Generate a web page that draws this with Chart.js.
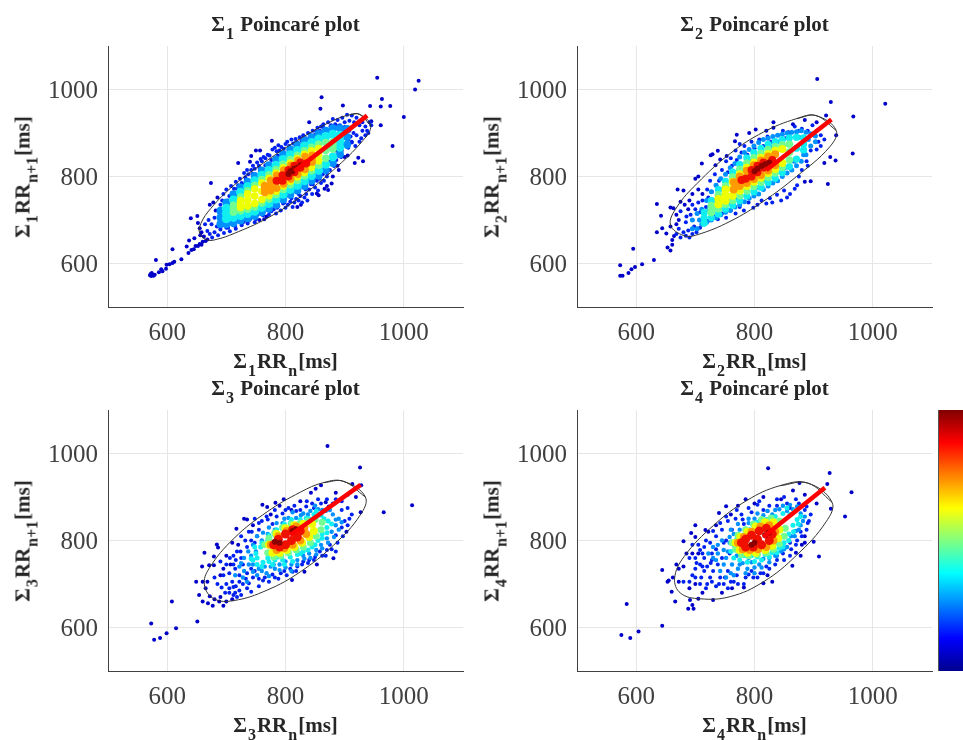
<!DOCTYPE html>
<html>
<head>
<meta charset="utf-8">
<title>Poincaré plots</title>
<script src="https://cdn.jsdelivr.net/npm/chart.js@4"></script>
<style>
  html, body { margin: 0; background: #fff; overflow: hidden; }
  #page { position: relative; width: 963px; height: 740px; overflow: hidden; }
  #page canvas { position: absolute; filter: blur(0.5px); }
  .lbl { position: absolute; font-family: "Liberation Serif", serif; font-weight: bold; color: #262626; white-space: nowrap; line-height: 1; }
  .lbl span { font-size: 16px; position: relative; top: 8px; margin: 0 1px; }
  .title { font-size: 21px; transform: translateX(-50%); }
  .xlab { font-size: 21px; transform: translateX(-50%); }
  .ylab { font-size: 21px; transform: translate(-50%, -50%) rotate(-90deg); }
  #colorbar { position: absolute; left: 938px; top: 410px; width: 25px; height: 261px; border-left: 1px solid #555; box-sizing: border-box; }
</style>
</head>
<body>
<div id="page"><div id="colorbar"></div></div>
<script>
// axis setup
const axisMin = 500
const axisMax = 1100
const tickValues = [600, 800, 1000]
const colorbarStops = ['#00008f', '#0000ff', '#0080ff', '#00ffff', '#80ff80', '#ffff00', '#ff8000', '#ff0000', '#800000']

// density bands, back to front
const bandColors = ['#0000c8', '#0020f0', '#0090ff', '#10eef0', '#70ff90', '#eeff00', '#ff9a00', '#f01000', '#8c0000']

// panel 1
const p1Navy = [[571,573],[573,571],[575,575],[577,572],[574,578],[579,574],[572,576],[581,608],[586,580],[590,587],[592,582],[598,588],[599,597],[604,598],[609,601],[609,633],[612,604],[624,610],[633,639],[636,624],[637,653],[640,704],[641,631],[645,633],[646,658],[648,640],[651,709],[652,640],[655,645],[656,665],[658,643],[660,650],[652,693],[655,681],[658,672],[662,662],[665,652],[668,655],[674,785],[672,735],[678,740],[682,722],[685,752],[720,831],[740,834],[742,847],[750,860],[757,860],[777,882],[840,925],[859,956],[861,982],[897,963],[943,962],[955,1027],[961,961],[963,978],[977,962],[1000,937],[961,918],[981,870],[945,927],[1019,1000],[1025,1020],[931,835],[917,831],[923,843],[900,845],[905,848],[878,784],[872,769],[853,761],[856,757],[870,778],[866,772],[752,712],[756,700],[768,708],[764,702],[820,730],[826,735],[880,800],[890,815],[888,825]]
const p1Blue = [[688,718],[690,735],[693,745],[695,760],[698,728],[700,770],[703,745],[705,755],[708,778],[710,762],[713,772],[716,788],[720,780],[723,795],[726,785],[730,808],[732,798],[735,815],[737,805],[742,815],[745,825],[748,818],[752,832],[755,825],[758,840],[760,835],[763,845],[766,842],[770,850],[773,848],[778,862],[782,866],[785,858],[788,872],[790,860],[793,868],[797,864],[800,875],[803,880],[806,870],[810,885],[813,876],[817,886],[820,878],[824,890],[827,882],[830,895],[834,888],[838,900],[842,892],[846,905],[850,896],[854,912],[858,905],[860,915],[864,920],[868,908],[872,925],[876,915],[880,932],[884,920],[888,930],[892,918],[896,935],[900,925],[904,942],[908,928],[912,940],[916,925],[920,935],[925,918],[930,925],[935,915],[938,905],[942,925],[945,918],[940,900],[935,895],[930,905],[928,888],[925,880],[920,895],[918,870],[915,900],[912,880],[910,892],[906,885],[905,868],[902,895],[900,905],[898,875],[895,860],[892,885],[890,850],[888,870],[886,838],[884,860],[880,828],[878,845],[875,815],[873,835],[870,800],[868,822],[865,790],[863,805],[860,785],[858,810],[855,768],[853,790],[850,775],[848,795],[845,760],[843,782],[840,770],[837,745],[835,760],[832,752],[828,740],[825,755],[822,745],[818,748],[815,740],[812,730],[808,742],[804,735],[800,728],[796,738],[792,722],[788,732],[784,715],[780,725],[776,720],[772,712],[760,715],[748,695],[744,708],[740,702],[736,692],[732,698],[726,688],[722,695],[716,680],[712,688],[706,674],[700,682],[696,670],[690,678],[686,665],[680,672],[676,660],[672,668],[668,675],[664,690],[670,700],[675,690],[680,705],[684,685],[692,700],[698,715],[694,712],[703,735],[710,752],[718,772],[727,782],[733,792],[744,806],[756,820],[766,826],[776,838],[787,848],[797,856],[807,868],[818,878],[829,888],[841,897],[852,904],[864,912],[877,918],[889,916],[900,914],[908,905],[690,682],[703,682],[715,686],[728,694],[738,698],[750,702],[762,711],[774,720],[786,728],[798,740],[810,750],[822,760],[834,770],[846,782],[858,795],[870,808],[882,824],[894,845],[906,866],[912,878]]
const p1Azure = [[690,721],[690,691],[700,740],[700,690],[712,759],[712,693],[724,775],[724,699],[736,788],[736,704],[748,801],[748,709],[760,814],[760,718],[772,826],[772,726],[784,839],[784,735],[796,851],[796,747],[808,862],[808,758],[820,872],[820,768],[832,882],[832,778],[844,890],[844,790],[856,898],[856,802],[868,905],[868,815],[880,911],[880,831],[892,911],[892,851],[904,909],[904,873],[690,706],[700,715],[892,881],[904,891]]
const p1Cyan = [[700,727],[700,703],[712,746],[712,706],[724,764],[724,710],[736,777],[736,715],[748,790],[748,720],[760,803],[760,729],[772,814],[772,738],[784,826],[784,748],[796,839],[796,759],[808,850],[808,770],[820,860],[820,780],[832,870],[832,790],[844,878],[844,802],[856,886],[856,814],[868,892],[868,828],[880,897],[880,845],[892,895],[892,867],[700,715],[712,726],[892,881],[880,871]]
const p1Green = [[712,734],[712,718],[724,753],[724,721],[736,767],[736,725],[748,780],[748,730],[760,793],[760,739],[772,804],[772,748],[784,816],[784,758],[796,828],[796,770],[808,839],[808,781],[820,849],[820,791],[832,859],[832,801],[844,867],[844,813],[856,874],[856,826],[868,878],[868,842],[880,879],[880,863],[712,726],[724,737],[868,860],[880,871]]
const p1Yellow = [[724,745],[724,729],[736,760],[736,732],[748,772],[748,738],[760,785],[760,747],[772,796],[772,756],[784,808],[784,766],[796,820],[796,778],[808,831],[808,789],[820,841],[820,799],[832,851],[832,809],[844,859],[844,821],[856,864],[856,836],[724,737],[736,746],[748,755],[760,766],[856,850]]
const p1Orange = [[765,779],[765,763],[775,791],[775,767],[785,803],[785,773],[797,815],[797,783],[809,826],[809,794],[821,837],[821,805],[833,846],[833,816],[845,849],[845,833],[765,771],[775,779],[785,788],[845,841]]
const p1Red = [[785,790],[795,790],[795,803],[805,800],[805,815],[815,810],[815,825],[825,820],[825,832],[835,830]]
const p1Dark = [[805,806],[808,812],[812,812],[815,818],[820,820],[826,826]]
const p1Ellipse = [[925,943],[944,917],[931,883],[881,815],[825,753],[769,704],[713,669],[685,656],[668,654],[655,669],[657,692],[674,727],[713,780],[769,837],[825,887],[881,929],[909,942],[925,943]]
const p1Axis = [[815,812],[938,940]]

// panel 2
const p2Navy = [[573,596],[573,572],[577,572],[587,578],[592,587],[598,592],[595,634],[610,598],[630,608],[635,737],[642,710],[635,672],[644,681],[651,669],[658,685],[653,637],[658,630],[661,643],[661,654],[664,663],[658,729],[663,727],[906,1024],[929,971],[1021,967],[967,938],[966,853],[937,837],[938,895],[924,783],[928,845],[918,831],[895,789],[885,788],[921,940],[885,930],[905,925],[770,896],[767,881],[802,908],[791,900],[820,905],[832,925],[832,912],[865,920],[857,902],[711,830],[729,851],[738,859],[726,849],[734,826],[753,847],[742,839],[670,770],[680,768],[675,742],[668,712],[672,700],[668,690],[682,735],[688,725],[695,760],[700,795],[705,800],[712,760],[705,770],[690,745]]
const p2Blue = [[668,668],[672,680],[675,660],[680,672],[684,664],[688,676],[690,660],[695,668],[698,685],[684,695],[675,720],[685,708],[692,712],[695,735],[700,725],[705,740],[708,718],[712,745],[718,730],[720,770],[722,752],[725,790],[728,765],[730,745],[733,805],[735,780],[740,790],[745,815],[748,775],[752,835],[755,810],[760,842],[762,825],[768,860],[770,838],[775,875],[778,855],[783,870],[788,850],[795,880],[800,865],[808,885],[815,870],[822,892],[828,880],[840,895],[848,905],[852,888],[860,900],[868,915],[875,905],[880,910],[890,905],[898,918],[905,905],[912,895],[918,885],[908,880],[900,895],[895,860],[905,862],[912,870],[888,835],[880,815],[890,825],[875,800],[872,780],[868,772],[860,760],[855,752],[850,768],[845,745],[838,758],[830,740],[826,750],[820,738],[812,745],[805,735],[798,728],[790,740],[782,722],[775,730],[768,715],[760,722],[752,705],[745,715],[738,702],[730,710],[722,698],[715,690],[708,682],[702,672]]
const p2Azure = [[695,700],[695,680],[703,715],[703,680],[711,725],[711,690],[719,745],[719,695],[727,765],[727,700],[735,780],[735,705],[743,795],[743,712],[751,805],[751,718],[759,820],[759,722],[767,830],[767,730],[775,845],[775,735],[783,855],[783,742],[791,862],[791,750],[799,870],[799,755],[807,878],[807,760],[815,885],[815,770],[823,888],[823,778],[831,892],[831,785],[839,895],[839,790],[847,897],[847,800],[855,900],[855,808],[863,902],[863,815],[871,903],[871,825],[879,905],[879,835],[887,902],[887,850],[895,898],[895,870],[903,893],[903,880],[707,700],[715,712],[723,725],[731,745],[739,730],[747,770],[755,740],[763,790],[771,750],[779,815],[787,770],[795,835],[803,775],[811,855],[819,790],[827,868],[835,805],[843,880],[851,820],[859,885],[867,835],[875,890],[883,850],[891,885]]
const p2Cyan = [[715,717],[715,693],[727,745],[727,705],[739,770],[739,714],[751,789],[751,725],[763,810],[763,734],[775,828],[775,744],[787,843],[787,755],[799,855],[799,765],[811,865],[811,775],[823,874],[823,786],[835,880],[835,796],[847,885],[847,809],[859,889],[859,823],[871,890],[871,840],[883,889],[883,861],[715,705],[727,725],[883,875],[871,865]]
const p2Green = [[727,733],[727,717],[739,758],[739,726],[751,778],[751,736],[763,799],[763,745],[775,816],[775,756],[787,831],[787,767],[799,843],[799,777],[811,853],[811,787],[823,862],[823,798],[835,868],[835,808],[847,873],[847,821],[859,874],[859,838],[727,725],[739,742],[859,856]]
const p2Yellow = [[739,748],[739,736],[751,770],[751,744],[763,788],[763,756],[775,805],[775,767],[787,820],[787,778],[799,832],[799,788],[811,843],[811,797],[823,852],[823,808],[835,859],[835,817],[847,863],[847,831],[751,757],[763,772]]
const p2Orange = [[765,787],[765,770],[775,800],[775,778],[787,813],[787,785],[799,826],[799,794],[811,837],[811,803],[823,846],[823,814],[835,851],[835,826],[775,789],[787,799]]
const p2Red = [[778,792],[785,795],[795,800],[795,815],[805,810],[805,825],[815,820],[815,832],[825,828],[830,838]]
const p2Dark = [[800,812],[805,818],[812,824],[818,828],[825,832]]
const p2Ellipse = [[904,940],[938,906],[927,868],[871,800],[815,743],[759,697],[703,666],[681,664],[658,689],[669,730],[703,784],[759,853],[815,902],[871,933],[904,940]]
const p2Axis = [[820,815],[930,931]]

// panel 3
const p3Navy = [[573,609],[578,572],[588,576],[599,587],[615,598],[608,660],[651,614],[649,705],[660,705],[663,772],[659,740],[654,675],[660,660],[669,656],[677,650],[695,650],[684,791],[686,784],[679,763],[671,743],[679,743],[811,709],[881,759],[853,745],[832,728],[903,820],[919,900],[927,865],[913,930],[928,927],[860,927],[843,910],[851,919],[797,895],[783,887],[761,882],[769,877],[730,850],[717,827],[710,795],[871,1017],[926,968],[1014,881],[966,865],[665,690],[672,672],[680,665],[688,660],[668,705],[690,670],[700,660],[710,665],[695,735],[690,720],[700,765],[707,745],[720,790],[735,848],[745,835],[752,810],[775,860],[790,880],[810,870],[825,890],[868,888],[885,910],[905,905]]
const p3Blue = [[698,680],[705,690],[712,675],[718,670],[722,685],[728,700],[700,700],[710,705],[716,695],[685,700],[692,692],[680,715],[695,720],[705,725],[715,735],[722,720],[728,745],[712,765],[718,775],[725,760],[735,785],[742,800],[748,795],[755,825],[760,845],[770,848],[778,838],[785,855],[795,862],[805,875],[815,880],[825,870],[835,878],[845,885],[855,895],[870,895],[880,885],[895,890],[905,875],[912,860],[900,845],[895,830],[885,812],[875,790],[870,778],[885,775],[862,765],[850,762],[840,755],[830,752],[820,740],[812,728],[802,720],[792,725],[782,715],[772,705],[762,708],[755,695],[745,715],[738,702],[735,725],[748,730],[705,680],[715,680],[725,675],[735,690],[742,682],[712,693],[722,705],[733,712],[742,735],[755,712],[765,715],[778,722],[788,712],[798,730],[808,735],[818,730],[828,745],[838,748],[848,755],[858,775],[868,765],[878,780],[888,795],[897,810],[905,835],[908,850],[895,870],[885,895],[873,878],[860,885],[848,875],[836,890],[818,868],[800,870],[782,870],[768,855],[755,840],[743,820],[732,800],[724,775],[716,755],[706,760],[700,745],[690,752],[712,745],[725,810],[738,820],[748,850]]
const p3Azure = [[730,730],[738,745],[745,745],[752,720],[760,730],[768,725],[775,740],[782,735],[790,745],[800,738],[810,745],[820,755],[830,765],[840,770],[852,778],[860,790],[870,805],[878,820],[885,835],[890,850],[880,860],[868,868],[855,872],[842,868],[830,862],[818,852],[805,852],[795,840],[782,825],[770,815],[760,800],[750,775],[742,765],[725,748],[728,715],[735,705],[745,728],[755,735],[765,740],[772,718],[780,745],[790,732],[800,752],[810,730],[820,745],[832,758],[842,760],[852,768],[862,782],[872,795],[882,808],[890,825],[895,842],[885,848],[875,870],[862,870],[850,880],[838,860],[826,858],[812,865],[798,850],[785,840],[772,830],[762,818],[752,810],[745,790],[737,775],[730,760],[722,740],[715,720]]
const p3Cyan = [[745,755],[752,745],[762,750],[772,752],[782,755],[795,755],[808,762],[820,768],[830,775],[845,785],[855,800],[862,815],[870,830],[872,845],[860,858],[848,860],[835,852],[820,838],[808,840],[795,830],[782,812],[770,800],[758,785],[750,770],[752,760],[760,740],[770,760],[778,745],[788,762],[798,745],[812,752],[825,770],[838,778],[850,790],[862,805],[870,818],[878,838],[865,850],[852,868],[840,850],[825,848],[810,848],[798,838],[785,825],[772,812],[760,795],[748,785],[742,758]]
const p3Green = [[765,790],[770,772],[780,762],[792,765],[805,772],[818,778],[830,785],[842,795],[852,810],[860,825],[862,842],[850,848],[838,845],[825,840],[810,838],[795,830],[782,818],[772,805]]
const p3Yellow = [[772,790],[778,772],[790,772],[802,778],[815,785],[828,795],[840,808],[848,822],[845,838],[830,838],[815,835],[800,828],[785,815]]
const p3Orange = [[775,790],[785,778],[798,782],[812,790],[825,800],[835,815],[832,830],[818,832],[802,822],[788,810]]
const p3Red = [[780,790],[790,785],[800,790],[810,800],[820,808],[825,822],[812,825],[800,815],[788,803]]
const p3Dark = [[782,797],[790,795],[812,822],[818,826]]
const p3Ellipse = [[898,936],[935,900],[926,858],[881,789],[825,728],[769,686],[713,662],[679,666],[663,698],[671,736],[713,805],[769,866],[825,911],[864,933],[898,936]]
const p3Axis = [[808,812],[927,928]]

// panel 4
const p4Navy = [[575,583],[590,576],[604,591],[584,654],[644,604],[688,643],[697,643],[695,652],[691,663],[705,666],[644,732],[666,660],[660,682],[653,705],[680,798],[700,835],[693,817],[700,808],[717,824],[823,966],[927,955],[964,911],[953,855],[929,873],[923,930],[876,932],[909,763],[900,797],[864,742],[785,895],[752,879],[740,863],[655,708],[662,715],[668,745],[680,740],[672,735],[685,770],[695,770],[705,770],[672,705],[690,690],[700,700],[712,680],[730,663],[745,680],[762,690],[782,692],[815,702],[822,720],[830,705],[880,790],[885,795],[878,765],[870,772],[885,810],[905,885],[885,905],[865,915],[845,895],[815,900],[800,885],[772,880],[760,860],[735,835],[722,820]]
const p4Blue = [[680,705],[695,720],[700,735],[708,745],[715,760],[710,715],[720,700],[725,715],[735,695],[748,700],[755,690],[765,705],[770,720],[782,700],[790,722],[798,715],[810,725],[820,740],[835,745],[848,770],[860,765],[870,790],[860,795],[878,820],[890,840],[895,860],[885,870],[875,885],[860,875],[850,900],[838,880],[825,880],[815,870],[805,882],[790,875],[778,860],[768,850],[755,845],[745,825],[735,810],[725,795],[715,785],[705,790],[712,770],[728,770],[720,740],[738,745],[745,760],[730,730],[742,715],[755,730],[715,730],[700,760],[728,755],[752,800],[762,825],[782,838],[690,705],[700,715],[708,700],[718,690],[728,705],[740,700],[750,715],[760,705],[772,700],[785,715],[795,730],[805,715],[815,725],[825,735],[838,755],[850,755],[862,780],[872,800],[880,810],[888,825],[892,845],[888,878],[870,895],[855,885],[838,895],[822,868],[808,890],[795,865],[780,848],[770,870],[752,855],[742,840],[730,822],[718,800],[708,778],[695,790],[690,760],[702,748],[712,740],[726,748],[735,780],[748,795],[758,770]]
const p4Azure = [[730,785],[738,770],[748,778],[758,795],[735,755],[748,745],[752,760],[762,745],[770,765],[760,725],[772,735],[780,748],[788,735],[795,750],[800,738],[808,745],[790,760],[815,758],[825,760],[835,765],[845,775],[855,785],[862,810],[870,822],[878,835],[885,855],[878,862],[865,872],[855,868],[842,872],[830,860],[815,858],[800,850],[790,840],[775,825],[765,815],[758,808],[722,770],[730,760],[738,790],[745,800],[755,775],[765,790],[742,730],[752,715],[765,720],[775,745],[785,725],[800,725],[812,738],[825,750],[838,765],[850,780],[858,800],[868,810],[875,825],[882,845],[872,878],[860,882],[848,880],[835,870],[822,868],[805,862],[790,850],[772,838],[760,825]]
const p4Cyan = [[768,790],[775,775],[782,765],[795,765],[805,762],[818,768],[830,772],[842,782],[850,795],[858,815],[865,835],[872,848],[860,860],[848,862],[835,855],[820,848],[805,842],[792,825],[780,812],[770,803],[760,775],[765,760],[775,755],[788,750],[800,752],[812,755],[825,762],[838,772],[848,785],[858,800],[866,820],[874,838],[878,855],[868,868],[855,875]]
const p4Green = [[762,795],[768,780],[778,768],[790,765],[805,768],[820,772],[832,780],[842,792],[850,810],[852,828],[842,845],[828,852],[812,848],[798,838],[785,825],[772,812]]
const p4Yellow = [[768,795],[775,778],[788,772],[802,772],[818,778],[830,788],[840,805],[842,825],[832,842],[818,842],[802,832],[788,820],[776,808]]
const p4Orange = [[772,795],[780,780],[792,778],[806,780],[820,785],[832,800],[835,820],[825,835],[810,832],[795,820],[782,808]]
const p4Red = [[778,795],[785,785],[798,785],[812,790],[825,800],[830,815],[820,828],[808,822],[795,812],[785,803],[805,803]]
const p4Dark = [[795,790],[800,795],[818,812],[824,818]]
const p4Ellipse = [[890,932],[931,888],[921,843],[871,766],[815,705],[759,671],[708,666],[675,679],[665,713],[681,763],[731,835],[787,892],[843,926],[890,932]]
const p4Axis = [[815,808],[919,921]]

const panelBands = [
  [p1Navy, p1Blue, p1Azure, p1Cyan, p1Green, p1Yellow, p1Orange, p1Red, p1Dark],
  [p2Navy, p2Blue, p2Azure, p2Cyan, p2Green, p2Yellow, p2Orange, p2Red, p2Dark],
  [p3Navy, p3Blue, p3Azure, p3Cyan, p3Green, p3Yellow, p3Orange, p3Red, p3Dark],
  [p4Navy, p4Blue, p4Azure, p4Cyan, p4Green, p4Yellow, p4Orange, p4Red, p4Dark]
]
const panelEllipses = [p1Ellipse, p2Ellipse, p3Ellipse, p4Ellipse]
const panelAxes = [p1Axis, p2Axis, p3Axis, p4Axis]
const panelIndex = ['1', '2', '3', '4']

// marker radius per band, the dense panels use bigger blobs
const panelRadii = [
  [2, 2, 4, 4.5, 3.8, 3.8, 3.8, 4, 3],
  [2, 2, 2.5, 3.6, 3.8, 4, 4, 4, 3],
  [2, 2, 2.2, 2.5, 3.5, 4, 4, 4.5, 3],
  [2, 2, 2.2, 2.5, 3.5, 4, 4, 4.5, 3]
]

// chart area of each panel in page pixels
const boxes = [
  { left: 108, right: 463, top: 46, bottom: 307, cx: 0, cy: 0 },
  { left: 577, right: 932, top: 46, bottom: 307, cx: 480, cy: 0 },
  { left: 108, right: 463, top: 410, bottom: 671, cx: 0, cy: 360 },
  { left: 577, right: 932, top: 410, bottom: 671, cx: 480, cy: 360 }
]

const toPoints = arr => arr.map(p => ({ x: p[0], y: p[1] }))
const page = document.getElementById('page')

document.getElementById('colorbar').style.background = `linear-gradient(to top, ${colorbarStops.join(',')})`

function addLabel(cls, html, left, top) {
  const el = document.createElement('div')
  el.className = 'lbl ' + cls
  el.innerHTML = html
  el.style.left = left + 'px'
  el.style.top = top + 'px'
  page.appendChild(el)
}

function drawPanel(i) {
  const box = boxes[i]
  const cw = 480
  const ch = 380
  const canvas = document.createElement('canvas')
  canvas.width = cw
  canvas.height = ch
  canvas.style.left = box.cx + 'px'
  canvas.style.top = box.cy + 'px'
  page.appendChild(canvas)

  const datasets = panelBands[i].map((pts, b) => ({
    data: toPoints(pts),
    backgroundColor: bandColors[b],
    borderWidth: 0,
    pointRadius: panelRadii[i][b],
    pointHoverRadius: panelRadii[i][b]
  }))
  // wrap one point round each end so the closed curve has no corner at the seam
  const ell = panelEllipses[i]
  const ellClosed = [ell[ell.length - 2], ...ell, ell[1]]
  datasets.push({ data: toPoints(ellClosed), showLine: true, tension: 0.4, borderColor: '#333333', borderWidth: 1, pointRadius: 0 })
  datasets.push({ data: toPoints(panelAxes[i]), showLine: true, borderColor: '#ff0000', borderWidth: 4.5, pointRadius: 0 })
  datasets.reverse() // first dataset is drawn on top

  const leftW = box.left - box.cx
  const bottomH = ch - (box.bottom - box.cy)
  const axisOpts = {
    type: 'linear',
    min: axisMin,
    max: axisMax,
    afterBuildTicks: a => { a.ticks = tickValues.map(v => ({ value: v })) },
    grid: { color: '#e6e6e6', lineWidth: 1, drawTicks: false },
    border: { display: true, color: '#404040', width: 1 },
    ticks: { color: '#404040', font: { family: 'Liberation Serif', size: 25 }, maxRotation: 0, autoSkip: false, callback: v => String(v) }
  }

  new Chart(canvas.getContext('2d'), {
    type: 'scatter',
    data: { datasets },
    options: {
      responsive: false,
      animation: false,
      layout: { padding: { left: 0, top: box.top - box.cy, right: box.cx + cw - box.right, bottom: 0 } },
      plugins: { legend: { display: false }, tooltip: { enabled: false } },
      scales: {
        x: { ...axisOpts, position: 'bottom', ticks: { ...axisOpts.ticks, padding: 11 }, afterFit: s => { s.height = bottomH } },
        y: { ...axisOpts, position: 'left', ticks: { ...axisOpts.ticks, padding: 10, labelOffset: 2 }, afterFit: s => { s.width = leftW } }
      }
    }
  })

  const n = panelIndex[i]
  const mid = (box.left + box.right) / 2
  const midY = (box.top + box.bottom) / 2
  addLabel('title', `Σ<span>${n}</span>&nbsp;Poincaré plot`, mid, box.top - 32)
  addLabel('xlab', `Σ<span>${n}</span>RR<span>n</span>[ms]`, mid, box.bottom + 44)
  addLabel('ylab', `Σ<span>${n}</span>RR<span>n+1</span>[ms]`, box.left - 85, midY)
}

panelIndex.forEach((n, i) => drawPanel(i))
</script>
</body>
</html>
